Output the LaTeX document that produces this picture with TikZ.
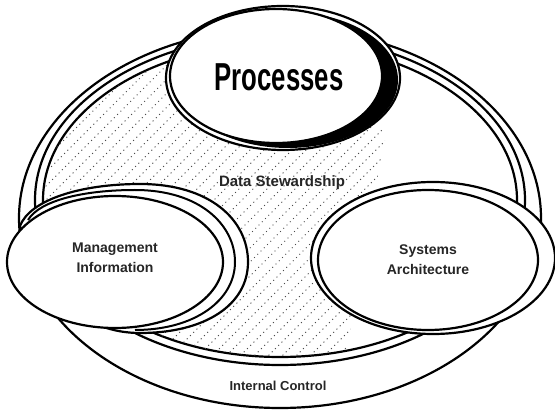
\documentclass[tikz,border=0pt]{standalone}
\usepackage{fontspec}
\usepackage{graphicx}
\setmainfont{Liberation Sans}
\begin{document}
\begin{tikzpicture}[x=1pt,y=-1pt,line join=round,
  heavy/.style={draw=black,line width=2.2pt,fill=white},
  thinrim/.style={draw=black,line width=2pt},
  hatchline/.style={black!70,line width=1pt,dash pattern=on 1pt off 3.6pt},
  lbl/.style={font=\fontsize{14}{20}\selectfont\bfseries,align=center,text=black!85,inner sep=0pt}]
\useasboundingbox (0,0) rectangle (555,414);

% outer disc (Internal Control band)
\draw[heavy] (280,218) ellipse [x radius=261,y radius=190];
% recessed floor: double rim
\draw[heavy] (280,200) ellipse [x radius=245,y radius=165];
\draw[heavy] (280,200) ellipse [x radius=237,y radius=157];

% dotted hatching on the floor
\begin{scope}
  \clip (280,200) ellipse [x radius=237,y radius=157];
  \clip (0,0) -- (360,0) -- (385,140) -- (335,414) -- (0,414) -- cycle;
  \foreach \k in {-420,-406,...,560}
    \draw[hatchline] (\k,414) -- ++(414,-414);
\end{scope}

% Management Information disc
\draw[heavy] (20,226) .. controls (30,200) and (80,184) .. (140,184)
  .. controls (210,184) and (248,220) .. (248,262)
  .. controls (248,305) and (205,333) .. (140,333)
  .. controls (105,333) and (50,318) .. (20,226) -- cycle;
\draw[thinrim] (28,220) .. controls (40,200) and (85,190) .. (135,190)
  .. controls (200,190) and (235,225) .. (235,262)
  .. controls (235,300) and (195,330) .. (135,330);
\draw[heavy] (115,262) ellipse [x radius=108,y radius=66];

% Systems Architecture disc
\draw[heavy] (433,258) ellipse [x radius=122,y radius=76];
\draw[heavy] (428,260) ellipse [x radius=110,y radius=70];

% Processes disc with dark edge
\draw[heavy] (283,78) ellipse [x radius=117,y radius=72];
\fill[black] (288,80) ellipse [x radius=110,y radius=68];
\draw[heavy] (276,76) ellipse [x radius=106,y radius=67];

% labels
\node (proc) at (279,77) {\scalebox{0.66}[1]{\fontsize{39}{40}\selectfont\bfseries Processes}};
\node[lbl,font=\fontsize{15}{20}\selectfont\bfseries] (stew) at (282,183) {Data Stewardship};
\node[lbl] (mgmt) at (115,258) {Management\\Information};
\node[lbl] (sys) at (428,260) {Systems\\Architecture};
\node[lbl,font=\fontsize{13}{20}\selectfont\bfseries] (ctrl) at (278,386) {Internal Control};
\end{tikzpicture}
\end{document}
